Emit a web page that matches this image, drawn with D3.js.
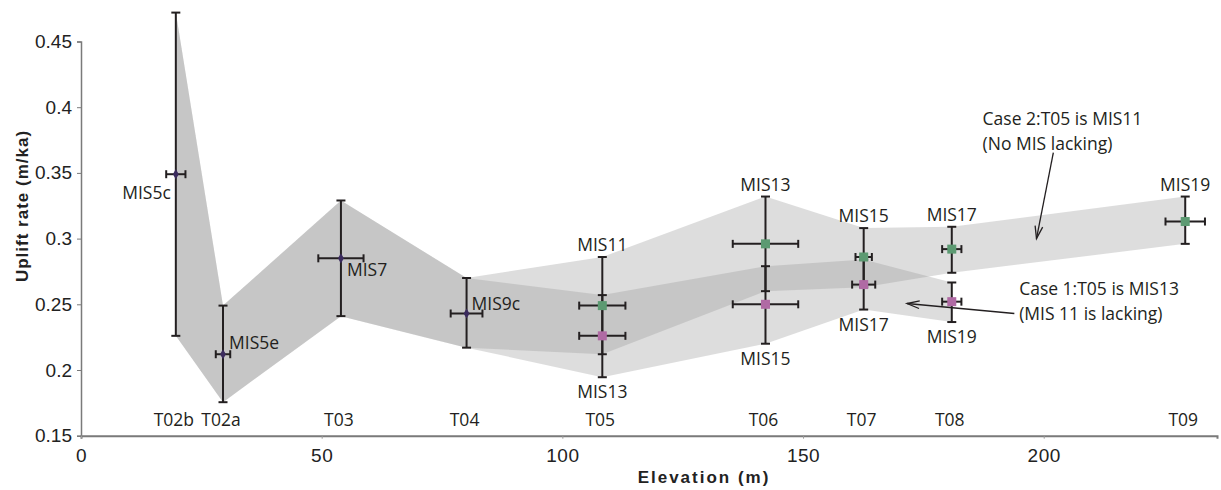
<!DOCTYPE html>
<html>
<head>
<meta charset="utf-8">
<script src="https://cdn.jsdelivr.net/npm/d3@7"></script>
<style>
  html, body { margin: 0; padding: 0; background: #fff; }
  svg { display: block; }
</style>
</head>
<body>
<svg id="chart" width="1221" height="490"></svg>
<script>
// ---------- DATA ----------
const terraces   = ["T02b", "T02a", "T03", "T04", "T05", "T06", "T07", "T08", "T09"];
const elevation  = [19.7, 29.5, 54.0, 80.1, 108.3, 142.2, 162.6, 180.9, 229.4];

// Common early terraces (T02b - T04)
const earlyLabels = ["MIS5c", "MIS5e", "MIS7", "MIS9c"];
const earlyRate   = [0.349, 0.212, 0.285, 0.243];
const earlyLow    = [0.226, 0.1755, 0.241, 0.217];
const earlyHigh   = [0.472, 0.249, 0.329, 0.270];
const earlyXErr   = [2.0, 1.5, 4.7, 3.3];

// Case 2: T05 is MIS11 (green), terraces T05 - T09
const case2Labels = ["MIS11", "MIS13", "MIS15", "MIS17", "MIS19"];
const case2Rate   = [0.249, 0.296, 0.286, 0.292, 0.313];
const case2Low    = [0.212, 0.260, 0.263, 0.274, 0.296];
const case2High   = [0.286, 0.332, 0.308, 0.309, 0.332];
const case2XErr   = [4.8, 6.8, 1.7, 2.0, 4.1];

// Case 1: T05 is MIS13 (pink), terraces T05 - T08
const case1Labels = ["MIS13", "MIS15", "MIS17", "MIS19"];
const case1Rate   = [0.226, 0.250, 0.265, 0.252];
const case1Low    = [0.1945, 0.220, 0.246, 0.2365];
const case1High   = [0.257, 0.279, 0.284, 0.2666];
const case1XErr   = [4.8, 6.8, 2.4, 2.0];

const xTicks = [0, 50, 100, 150, 200];
const yTicks = [0.15, 0.2, 0.25, 0.3, 0.35, 0.4, 0.45];

const case2Note = ["Case 2:T05 is MIS11", "(No MIS lacking)"];
const case1Note = ["Case 1:T05 is MIS13", "(MIS 11 is lacking)"];

// ---------- SETUP ----------
const svg = d3.select("#chart");
const x = d3.scaleLinear().domain([0, 236]).range([81, 1217]);
const y = d3.scaleLinear().domain([0.15, 0.45]).range([435.7, 41.5]);

const labelFont = "'Open Sans', 'DejaVu Sans', sans-serif";
const axisFont = "'Liberation Sans', Arial, sans-serif";
const ink = "#231f20";

function series(offset, rate, low, high, xerr, labels) {
  return rate.map((r, i) => ({
    x: elevation[offset + i], r, lo: low[i], hi: high[i], xe: xerr[i], label: labels[i]
  }));
}
const early = series(0, earlyRate, earlyLow, earlyHigh, earlyXErr, earlyLabels);
const case2 = series(4, case2Rate, case2Low, case2High, case2XErr, case2Labels);
const case1 = series(4, case1Rate, case1Low, case1High, case1XErr, case1Labels);

// ---------- BANDS ----------
function bandPoints(pts) {
  const top = pts.map(d => [x(d.x), y(d.hi)]);
  const bot = pts.slice().reverse().map(d => [x(d.x), y(d.lo)]);
  return top.concat(bot);
}
const line = d3.line();
[early.concat(case1), early.concat(case2)].forEach(pts => {
  svg.append("path")
    .attr("d", line(bandPoints(pts)) + "Z")
    .attr("fill", "#9c9c9c")
    .attr("fill-opacity", 0.34)
    .attr("stroke", "none");
});

// ---------- AXES ----------
const yAxis = d3.axisLeft(y).tickValues(yTicks).tickSize(4).tickPadding(5)
  .tickFormat(d => d3.format("")(+d.toFixed(2)));
const gy = svg.append("g").attr("transform", `translate(${x(0)},0)`).call(yAxis);
gy.select(".domain").attr("stroke", "#7a7a7a").attr("stroke-width", 1.5);
gy.selectAll(".tick line").attr("stroke", "#7a7a7a");
gy.selectAll(".tick text").attr("font-family", axisFont).attr("font-size", 19).attr("fill", "#222");

const xAxis = d3.axisBottom(x).tickValues(xTicks).tickSize(3).tickPadding(10);
const gx = svg.append("g").attr("transform", `translate(0,${y(0.15)})`).call(xAxis);
gx.select(".domain").attr("stroke", "#7a7a7a").attr("stroke-width", 2);
gx.selectAll(".tick line").attr("stroke", "#9a9a9a");
gx.selectAll(".tick text").attr("font-family", axisFont).attr("font-size", 19).attr("fill", "#222")
  .attr("letter-spacing", "0.5px");

svg.append("text")
  .attr("x", 704).attr("y", 483)
  .attr("text-anchor", "middle")
  .attr("font-family", axisFont).attr("font-weight", "bold").attr("font-size", 17)
  .attr("letter-spacing", "2px").attr("fill", "#222")
  .text("Elevation (m)");

svg.append("text")
  .attr("transform", "translate(28,206) rotate(-90)")
  .attr("text-anchor", "middle")
  .attr("font-family", axisFont).attr("font-weight", "bold").attr("font-size", 17)
  .attr("letter-spacing", "1px").attr("fill", "#222")
  .text("Uplift rate (m/ka)");

// ---------- TERRACE LABELS ----------
svg.append("g").selectAll("text").data(terraces).join("text")
  .attr("x", (d, i) => x(elevation[i]) - 2)
  .attr("y", 426)
  .attr("text-anchor", "middle")
  .attr("font-family", labelFont).attr("font-size", 17.5).attr("fill", "#231f20")
  .text(d => d);

// ---------- ERROR BARS ----------
function errorBars(pts) {
  const g = svg.append("g").attr("stroke", ink).attr("stroke-width", 2).attr("fill", "none");
  pts.forEach(d => {
    const cx = x(d.x), cy = y(d.r);
    g.append("line").attr("x1", cx).attr("x2", cx).attr("y1", y(d.lo)).attr("y2", y(d.hi));
    g.append("line").attr("x1", cx - 4.5).attr("x2", cx + 4.5).attr("y1", y(d.lo)).attr("y2", y(d.lo));
    g.append("line").attr("x1", cx - 4.5).attr("x2", cx + 4.5).attr("y1", y(d.hi)).attr("y2", y(d.hi));
    g.append("line").attr("x1", x(d.x - d.xe)).attr("x2", x(d.x + d.xe)).attr("y1", cy).attr("y2", cy);
    g.append("line").attr("x1", x(d.x - d.xe)).attr("x2", x(d.x - d.xe)).attr("y1", cy - 4).attr("y2", cy + 4);
    g.append("line").attr("x1", x(d.x + d.xe)).attr("x2", x(d.x + d.xe)).attr("y1", cy - 4).attr("y2", cy + 4);
  });
}
errorBars(early);
errorBars(case2);
errorBars(case1);

// ---------- MARKERS ----------
svg.append("g").selectAll("path").data(early).join("path")
  .attr("d", d3.symbol().type(d3.symbolDiamond).size(30))
  .attr("transform", d => `translate(${x(d.x)},${y(d.r)})`)
  .attr("fill", "#3b2b5e");
svg.append("g").selectAll("rect").data(case2).join("rect")
  .attr("x", d => x(d.x) - 4.5).attr("y", d => y(d.r) - 4.5)
  .attr("width", 9).attr("height", 9).attr("fill", "#5c9a72");
svg.append("g").selectAll("rect").data(case1).join("rect")
  .attr("x", d => x(d.x) - 4.5).attr("y", d => y(d.r) - 4.5)
  .attr("width", 9).attr("height", 9).attr("fill", "#b06aa4");

// ---------- MIS LABELS ----------
const earlyPlace = [
  { dx: -5, dy: 25, anchor: "end" },
  { dx: 6, dy: -5, anchor: "start" },
  { dx: 6, dy: 18, anchor: "start" },
  { dx: 5, dy: -3, anchor: "start" }
];
svg.append("g").selectAll("text").data(early).join("text")
  .attr("x", (d, i) => x(d.x) + earlyPlace[i].dx)
  .attr("y", (d, i) => y(d.r) + earlyPlace[i].dy)
  .attr("text-anchor", (d, i) => earlyPlace[i].anchor)
  .attr("font-family", labelFont).attr("font-size", 17.5).attr("fill", "#231f20")
  .text(d => d.label);
svg.append("g").selectAll("text").data(case2).join("text")
  .attr("x", d => x(d.x)).attr("y", d => y(d.hi) - 6)
  .attr("text-anchor", "middle")
  .attr("font-family", labelFont).attr("font-size", 17.5).attr("fill", "#231f20")
  .text(d => d.label);
svg.append("g").selectAll("text").data(case1).join("text")
  .attr("x", d => x(d.x)).attr("y", d => y(d.lo) + 21)
  .attr("text-anchor", "middle")
  .attr("font-family", labelFont).attr("font-size", 17.5).attr("fill", "#231f20")
  .text(d => d.label);

// ---------- ANNOTATIONS ----------
function note(lines, ex, ey) {
  svg.append("g").selectAll("text").data(lines).join("text")
    .attr("x", x(ex)).attr("y", (d, i) => y(ey) + i * 25)
    .attr("font-family", labelFont).attr("font-size", 17.5).attr("fill", "#231f20")
    .text(d => d);
}
note(case2Note, 187.3, 0.3864);
note(case1Note, 194.9, 0.2570);

function arrow(x1, y1, x2, y2) {
  const px1 = x(x1), py1 = y(y1), px2 = x(x2), py2 = y(y2);
  const ang = Math.atan2(py2 - py1, px2 - px1);
  const len = 13, spread = 0.3;
  svg.append("line").attr("x1", px1).attr("y1", py1).attr("x2", px2).attr("y2", py2)
    .attr("stroke", ink).attr("stroke-width", 1.3);
  const a1 = ang + Math.PI - spread, a2 = ang + Math.PI + spread;
  svg.append("path")
    .attr("d", `M${px2 + len * Math.cos(a1)},${py2 + len * Math.sin(a1)}L${px2},${py2}L${px2 + len * Math.cos(a2)},${py2 + len * Math.sin(a2)}`)
    .attr("fill", "none").attr("stroke", ink).attr("stroke-width", 1.3);
}
arrow(202.0, 0.3654, 198.5, 0.3000);
arrow(193.9, 0.2430, 171.6, 0.2506);
</script>
</body>
</html>
